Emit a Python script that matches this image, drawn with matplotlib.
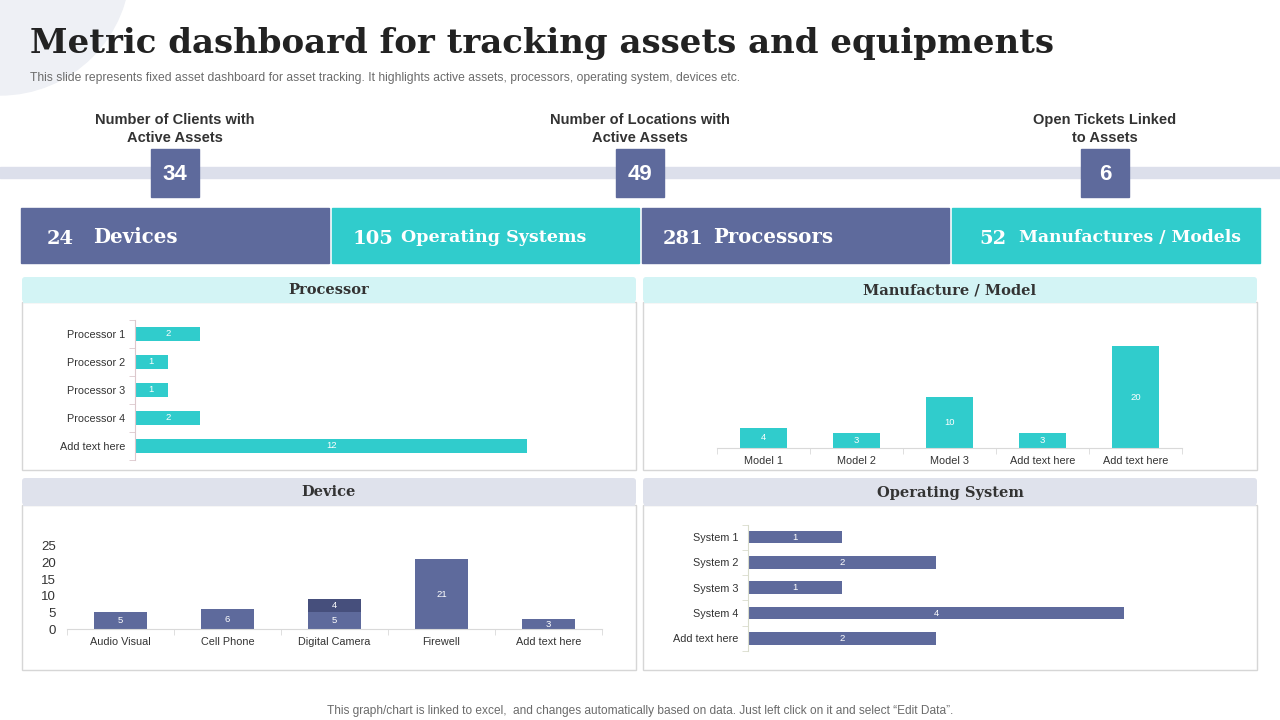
import matplotlib
matplotlib.use("Agg")
import matplotlib.pyplot as plt
from matplotlib.patches import Rectangle, FancyBboxPatch, Circle
import numpy as np

# ---------------- data ----------------
kpi_labels = ["Number of Clients with\nActive Assets",
              "Number of Locations with\nActive Assets",
              "Open Tickets Linked\nto Assets"]
kpi_values = [34, 49, 6]
tile_values = [24, 105, 281, 52]
tile_labels = ["Devices", "Operating Systems", "Processors", "Manufactures / Models"]

proc_cats = ["Processor 1", "Processor 2", "Processor 3", "Processor 4", "Add text here"]
proc_vals = [2, 1, 1, 2, 12]

model_cats = ["Model 1", "Model 2", "Model 3", "Add text here", "Add text here"]
model_vals = [4, 3, 10, 3, 20]

device_cats = ["Audio Visual", "Cell Phone", "Digital Camera", "Firewell", "Add text here"]
device_s1 = [5, 6, 5, 21, 3]
device_s2 = [0, 0, 4, 0, 0]
device_yticks = [0, 5, 10, 15, 20, 25]

os_cats = ["System 1", "System 2", "System 3", "System 4", "Add text here"]
os_vals = [1, 2, 1, 4, 2]

title = "Metric dashboard for tracking assets and equipments"
subtitle = ("This slide represents fixed asset dashboard for asset tracking. It highlights active "
            "assets, processors, operating system, devices etc.")
footer = ("This graph/chart is linked to excel,  and changes automatically based on data. "
          "Just left click on it and select \u201cEdit Data\u201d.")

# ---------------- style ----------------
BLUE = "#5e6a9c"
DARKBLUE = "#464f7c"
TEAL = "#30cccc"
CYANHDR = "#d3f4f5"
GRAYHDR = "#dfe2ec"
BAND = "#dcdfeb"
SANS = ["Liberation Sans", "DejaVu Sans"]
SERIF = ["DejaVu Serif", "Liberation Serif"]
TXT = "#333333"

W, H = 1280, 720
fig = plt.figure(figsize=(W / 100, H / 100), dpi=100)
fig.patch.set_facecolor("white")


def px_axes(x0, y0, x1, y1):
    return fig.add_axes([x0 / W, 1 - y1 / H, (x1 - x0) / W, (y1 - y0) / H])


bg = fig.add_axes([0, 0, 1, 1])
bg.set_xlim(0, W)
bg.set_ylim(H, 0)
bg.axis("off")
bg.set_zorder(-1)

# decorative blob top-left
bg.add_patch(Circle((0, -35), 130, color="#eef0f5", zorder=0))

# title and subtitle
bg.text(30, 43, title, family=SERIF, fontweight="bold", fontsize=24.5, color="#222222",
        va="center", ha="left")
bg.text(30, 78, subtitle, family=SANS, fontsize=8.7, color="#6b6b6b", va="center", ha="left")

# band
bg.add_patch(Rectangle((0, 167), W, 11, color=BAND, zorder=1))

# KPIs
kpi_x = [175, 640, 1105]
for x, lab, val in zip(kpi_x, kpi_labels, kpi_values):
    bg.text(x, 129, lab, family=SANS, fontweight="bold", fontsize=10.5, color=TXT,
            ha="center", va="center", linespacing=1.4)
    bg.add_patch(Rectangle((x - 24, 149), 48, 48, color=BLUE, zorder=2))
    bg.text(x, 174, str(val), family=SANS, fontweight="bold", fontsize=16, color="white",
            ha="center", va="center", zorder=3)

# tiles
tile_x = [(21, 329), (332, 639), (642, 949), (952, 1260)]
tile_col = [BLUE, TEAL, BLUE, TEAL]
num_x = [47, 353, 663, 979]
lab_x = [93, 401, 713, 1019]
lab_fs = [14.2, 12.6, 14.2, 12.3]
for (x0, x1), c, v, l, nx, lx, fs in zip(tile_x, tile_col, tile_values, tile_labels,
                                         num_x, lab_x, lab_fs):
    bg.add_patch(Rectangle((x0, 208), x1 - x0, 55, color=c, zorder=1))
    bg.text(nx, 239, str(v), family=SERIF, fontweight="bold", fontsize=14, color="white",
            ha="left", va="center")
    bg.text(lx, 237, l, family=SERIF, fontweight="bold", fontsize=fs, color="white",
            ha="left", va="center")


# panels
def panel(x0, y0, x1, y1, hdr_h, hdr_col, name):
    bg.add_patch(Rectangle((x0, y0 + hdr_h), x1 - x0, y1 - y0 - hdr_h, facecolor="white",
                           edgecolor="#d6d6d6", lw=1.0, zorder=1))
    bg.add_patch(FancyBboxPatch((x0 + 3, y0 + 3), x1 - x0 - 6, hdr_h - 6,
                                boxstyle="round,pad=3", facecolor=hdr_col,
                                edgecolor="none", zorder=2))
    bg.add_patch(Rectangle((x0 + 0.6, y0 + hdr_h / 2), x1 - x0 - 1.2, hdr_h / 2 + 1,
                           facecolor=hdr_col, edgecolor="none", zorder=2))
    bg.text((x0 + x1) / 2, y0 + hdr_h / 2 + 1, name, family=SERIF, fontweight="bold",
            fontsize=10.5, color=TXT, ha="center", va="center", zorder=3)


panel(22, 277, 636, 470, 25, CYANHDR, "Processor")
panel(643, 277, 1257, 470, 25, CYANHDR, "Manufacture / Model")
panel(22, 478, 636, 670, 27, GRAYHDR, "Device")
panel(643, 478, 1257, 670, 27, GRAYHDR, "Operating System")

bg.text(640, 711, footer, family=SANS, fontsize=8.6, color="#6b6b6b", ha="center", va="center")

SPINE = "#d9d9d9"


def hbar_chart(ax, cats, vals, color, xmax, spine_col):
    pos = np.arange(len(cats))
    bars = ax.barh(pos, vals, height=0.5, color=color)
    ax.set_ylim(len(cats) - 0.5, -0.5)
    ax.set_xlim(0, xmax)
    ax.set_facecolor("none")
    for s in ["top", "right", "bottom"]:
        ax.spines[s].set_visible(False)
    ax.spines["left"].set_color(spine_col)
    ax.set_xticks([])
    ax.set_yticks(pos)
    ax.set_yticklabels(cats, family=SANS, fontsize=7.8, color=TXT)
    ax.set_yticks(np.arange(len(cats) + 1) - 0.5, minor=True)
    ax.tick_params(axis="y", which="major", length=0, pad=7)
    ax.tick_params(axis="y", which="minor", length=4, color=spine_col)
    ax.bar_label(bars, labels=[str(v) for v in vals], label_type="center",
                 color="white", fontsize=6.8, family=SANS)


def vbar_axes(ax, cats):
    ax.set_facecolor("none")
    for s in ["top", "right", "left"]:
        ax.spines[s].set_visible(False)
    ax.spines["bottom"].set_color(SPINE)
    pos = np.arange(len(cats))
    ax.set_xlim(-0.5, len(cats) - 0.5)
    ax.set_xticks(pos)
    ax.set_xticklabels(cats, family=SANS, fontsize=7.8, color=TXT)
    ax.set_xticks(np.arange(len(cats) + 1) - 0.5, minor=True)
    ax.tick_params(axis="x", which="major", length=0, pad=6)
    ax.tick_params(axis="x", which="minor", length=4, color=SPINE)
    return pos


# Processor
ax1 = px_axes(135, 320, 600, 460)
hbar_chart(ax1, proc_cats, proc_vals, TEAL, 465 / 32.7, "#dcc8cc")

# Manufacture / Model
ax2 = px_axes(717, 310, 1182, 448)
pos = vbar_axes(ax2, model_cats)
b2 = ax2.bar(pos, model_vals, width=0.5, color=TEAL)
ax2.set_ylim(0, 138 / 5.1)
ax2.set_yticks([])
ax2.bar_label(b2, labels=[str(v) for v in model_vals], label_type="center",
              color="white", fontsize=6.8, family=SANS)

# Device
ax3 = px_axes(67, 546, 602, 629)
pos = vbar_axes(ax3, device_cats)
b3a = ax3.bar(pos, device_s1, width=0.5, color=BLUE)
b3b = ax3.bar(pos, device_s2, width=0.5, bottom=device_s1, color=DARKBLUE)
ax3.set_ylim(0, 25)
ax3.set_yticks(device_yticks)
ax3.set_yticklabels([str(t) for t in device_yticks], family=SANS, fontsize=9.5, color=TXT)
ax3.tick_params(axis="y", length=0, pad=8)
ax3.bar_label(b3a, labels=[str(v) for v in device_s1], label_type="center",
              color="white", fontsize=6.8, family=SANS)
ax3.bar_label(b3b, labels=[str(v) if v else "" for v in device_s2], label_type="center",
              color="white", fontsize=6.8, family=SANS)

# Operating System
ax4 = px_axes(748, 524.5, 1200, 651)
hbar_chart(ax4, os_cats, os_vals, BLUE, 452 / 94, "#d9dccc")

fig.savefig("out.png", dpi=100, facecolor="white")
